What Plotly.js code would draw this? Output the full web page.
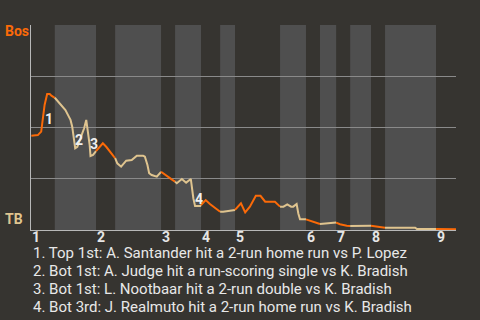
<!DOCTYPE html>
<html>
<head>
<meta charset="utf-8">
<script src="https://cdn.plot.ly/plotly-3.0.1.min.js"></script>
<style>html,body{margin:0;padding:0;background:#363430;}#chart{width:480px;height:320px;}</style>
</head>
<body>
<div id="chart"></div>
<script>
// Inning labels and half-inning start positions (game progress, 0-100)
const innings = ['1','2','3','4','5','6','7','8','9'];
const halfStart = [0, 5.6, 15.3, 19.8, 30.6, 33.9, 40, 44.5, 48, 58.6, 64.7, 68, 71.8, 75.1, 80, 83.3, 95.3];
const gameEnd = 100;

// Boston win probability (%) through the game
const wpX = [0.07,1.25,1.6,2.4,2.8,3.2,3.8,4.4,4.8,5.6,
  6.4,7.1,8.1,8.9,9.3,9.7,10.0,10.4,10.9,11.8,12.5,13.0,13.4,13.8,14.0,14.6,15.3,
  16.2,16.9,17.7,18.5,19.5,19.8,
  20.3,21.2,22.4,23.7,24.9,26.4,26.8,27.4,27.8,28.4,29.6,30.6,
  31.9,33.1,33.9,
  34.3,35.5,36.5,37.6,37.8,38.2,38.6,39.8,40.0,
  41.1,42.1,43.3,44.5,
  45.2,46.8,48.0,
  49.4,50.4,51.5,52.9,54.0,55.1,57.4,58.6,
  59.4,60.3,61.2,61.7,62.5,62.9,63.3,64.7,
  65.6,66.8,68.0,
  70.4,71.8,
  72.7,74.3,75.1,
  76.2,77.4,79.0,80.0,
  81.3,82.5,83.3,
  90.4,90.8,95.3,
  100];
const wpY = [46.0,46.0,46.3,48.0,55.3,61.0,66.3,66.3,65.5,64.5,
  62.6,60.6,58.5,55.3,53.7,50.4,44.7,39.9,40.6,45.5,49.6,53.7,48.0,41.5,36.1,36.6,38.5,
  40.6,42.3,40.6,38.2,35.8,35.1,
  32.5,30.9,33.8,34.1,36.2,36.2,35.8,31.7,27.7,26.8,26.0,28.4,
  26.3,24.7,23.6,
  22.8,24.9,23.1,24.9,21.1,15.5,11.7,11.7,12.2,
  14.6,12.7,10.6,8.9,
  8.9,9.4,9.8,
  13.0,8.6,11.4,16.7,16.7,13.8,13.8,11.4,
  11.4,12.5,11.4,11.4,12.7,8.1,5.2,5.2,
  4.5,3.6,2.9,
  3.3,3.6,
  2.8,2.1,2.0,
  2.1,2.0,2.1,2.1,
  1.6,1.1,1.1,
  1.1,0.5,0.5,
  0.4];

// Key plays
const eventNum = ['1','2','3','4'];
const eventX = [4.17, 11.2, 14.8, 39.5];
const eventY = [54.1, 43.9, 41.8, 15.0];
const eventText = [
  '1. Top 1st: A. Santander hit a 2-run home run vs P. Lopez',
  '2. Bot 1st: A. Judge hit a run-scoring single vs K. Bradish',
  '3. Bot 1st: L. Nootbaar hit a 2-run double vs K. Bradish',
  '4. Bot 3rd: J. Realmuto hit a 2-run home run vs K. Bradish'
];

const awayTeam = 'Bos', homeTeam = 'TB';
const ORANGE = '#fb6a08', BEIGE = '#dfc48f', DARK = '#363430', LIGHT = '#4f4f4f';

function halfOf(x){ let h = 0; for (let i = 0; i < halfStart.length; i++) if (halfStart[i] < x) h = i; return h; }

const traces = [];
for (let h = 0; h < halfStart.length; h++) {
  const xs = [], ys = [];
  let first = -1;
  for (let i = 0; i < wpX.length; i++) {
    if (halfOf(wpX[i]) === h) {
      if (first < 0) { first = i; if (i > 0) { xs.push(wpX[i-1]); ys.push(wpY[i-1]); } }
      xs.push(wpX[i]); ys.push(wpY[i]);
    }
  }
  if (!xs.length) continue;
  traces.push({x: xs, y: ys, type: 'scatter', mode: 'lines', hoverinfo: 'skip',
    line: {color: h % 2 === 0 ? ORANGE : BEIGE, width: 2}});
}

const shapes = [];
for (let h = 1; h < halfStart.length; h += 2) {
  const x1 = h + 1 < halfStart.length ? halfStart[h+1] : gameEnd;
  shapes.push({type: 'rect', xref: 'x', yref: 'paper', x0: halfStart[h], x1: x1, y0: 0, y1: 1,
    fillcolor: LIGHT, line: {width: 0}, layer: 'below'});
}

const annotations = [];
eventNum.forEach((n, i) => annotations.push({x: eventX[i], y: eventY[i], text: n, showarrow: false,
  font: {family: 'Roboto', size: 14, color: '#f0f0f0', weight: 'bold'}}));
annotations.push({xref: 'paper', yref: 'y', x: -0.066, xanchor: 'left', y: 97, text: awayTeam, showarrow: false,
  font: {family: 'Roboto', size: 14, color: ORANGE, weight: 'bold'}});
annotations.push({xref: 'paper', yref: 'y', x: -0.066, xanchor: 'left', y: 5.4, text: homeTeam, showarrow: false,
  font: {family: 'Roboto', size: 14, color: BEIGE, weight: 'bold'}});
// inning labels, left-aligned at the start of each inning
halfStart.filter((v, i) => i % 2 === 0).forEach((v, i) => annotations.push({
  xref: 'x', yref: 'paper', x: v, y: 0, xanchor: 'left', yanchor: 'middle', yshift: -7, xshift: -1,
  text: innings[i], showarrow: false,
  font: {family: 'Roboto', size: 14, color: '#e6e6e6', weight: 'bold'}}));
// key play descriptions
eventText.forEach((t, i) => annotations.push({xref: 'paper', yref: 'paper', x: 0, xanchor: 'left',
  y: 0, yanchor: 'middle', yshift: -(23 + 18 * i), text: t, showarrow: false,
  font: {family: 'Roboto', size: 15, color: '#e8e8e8'}}));

const layout = {
  width: 480, height: 320,
  margin: {l: 31, r: 24, t: 25, b: 90},
  paper_bgcolor: DARK, plot_bgcolor: DARK,
  showlegend: false,
  xaxis: {range: [0, gameEnd], showticklabels: false,
    showgrid: false, zeroline: false, showline: true, linecolor: '#b8b8b8', linewidth: 1,
    ticks: '', fixedrange: true},
  yaxis: {range: [0, 100], tickvals: [0, 25, 50, 75, 100], showticklabels: false,
    showgrid: true, gridcolor: '#8a8a8a', gridwidth: 1, zeroline: false,
    showline: true, linecolor: '#b8b8b8', linewidth: 1, ticks: '', fixedrange: true},
  shapes: shapes,
  annotations: annotations
};

Plotly.newPlot('chart', traces, layout, {displayModeBar: false, staticPlot: true});
</script>
</body>
</html>
